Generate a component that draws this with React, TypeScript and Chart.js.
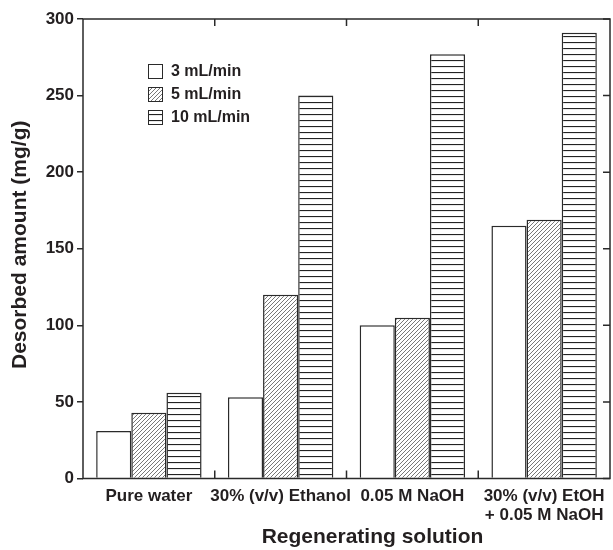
import React, { useEffect, useRef } from "react";
import { Chart, registerables } from "chart.js";

Chart.register(...registerables);

const categories: (string | string[])[] = [
  "Pure water",
  "30% (v/v) Ethanol",
  "0.05 M NaOH",
  ["30% (v/v) EtOH", "+ 0.05 M NaOH"],
];
const seriesLabels = ["3 mL/min", "5 mL/min", "10 mL/min"];
const flow3 = [31, 53, 100, 165];
const flow5 = [43, 120, 105, 169];
const flow10 = [56, 250, 277, 291];
const yMin = 0;
const yMax = 300;
const yStep = 50;
const yTitle = "Desorbed amount (mg/g)";
const xTitle = "Regenerating solution";

const INK = "#231f20";
const FONT = "'Liberation Sans', Arial, Helvetica, sans-serif";

function makeHatch(): CanvasPattern | string {
  const c = document.createElement("canvas");
  c.width = 4;
  c.height = 4;
  const g = c.getContext("2d");
  if (!g) return "#fff";
  g.fillStyle = "#fff";
  g.fillRect(0, 0, 4, 4);
  g.strokeStyle = "#555";
  g.lineWidth = 0.8;
  g.beginPath();
  g.moveTo(0, 4);
  g.lineTo(4, 0);
  g.moveTo(-1, 1);
  g.lineTo(1, -1);
  g.moveTo(3, 5);
  g.lineTo(5, 3);
  g.stroke();
  return g.createPattern(c, "repeat") || "#fff";
}

function makeLines(): CanvasPattern | string {
  const c = document.createElement("canvas");
  c.width = 6;
  c.height = 6;
  const g = c.getContext("2d");
  if (!g) return "#fff";
  g.fillStyle = "#fff";
  g.fillRect(0, 0, 6, 6);
  g.fillStyle = "#222";
  g.fillRect(0, 0, 6, 1.1);
  return g.createPattern(c, "repeat") || "#fff";
}

const framePlugin = {
  id: "framePlugin",
  afterDraw(chart: any) {
    const { ctx, chartArea } = chart;
    const { left, top, right, bottom } = chartArea;
    const xs = chart.scales.x;
    const ys = chart.scales.y;
    ctx.save();
    ctx.strokeStyle = "#2a2a2a";
    ctx.lineWidth = 1.5;
    ctx.strokeRect(left, top, right - left, bottom - top);
    ctx.beginPath();
    // right axis inward ticks
    ys.ticks.forEach((t: any) => {
      const y = ys.getPixelForValue(t.value);
      ctx.moveTo(right, y);
      ctx.lineTo(right - 7, y);
    });
    // category boundary ticks, top and bottom, inward
    const n = xs.ticks.length;
    const w = (xs.right - xs.left) / n;
    for (let i = 1; i < n; i++) {
      const x = xs.left + i * w;
      ctx.moveTo(x, top);
      ctx.lineTo(x, top + 7);
      ctx.moveTo(x, bottom);
      ctx.lineTo(x, bottom - 8);
    }
    ctx.stroke();

    // legend
    const lx = left + 65;
    let ly = top + 45;
    ctx.font = `bold 16px ${FONT}`;
    ctx.textBaseline = "middle";
    ctx.textAlign = "left";
    chart.data.datasets.forEach((ds: any) => {
      ctx.fillStyle = ds.backgroundColor;
      ctx.fillRect(lx, ly, 15, 15);
      ctx.strokeStyle = "#2a2a2a";
      ctx.lineWidth = 1;
      ctx.strokeRect(lx + 0.5, ly + 0.5, 14, 14);
      ctx.fillStyle = INK;
      ctx.fillText(ds.label, lx + 23, ly + 8);
      ly += 23;
    });

    // axis titles
    ctx.fillStyle = INK;
    ctx.font = `bold 21px ${FONT}`;
    ctx.textAlign = "center";
    ctx.textBaseline = "middle";
    ctx.fillText(xTitle, (left + right) / 2 + 26, 537);
    ctx.translate(20.5, (top + bottom) / 2 - 4);
    ctx.rotate(-Math.PI / 2);
    ctx.fillText(yTitle, 0, 0);
    ctx.restore();
  },
};

export default function App() {
  const ref = useRef<HTMLCanvasElement | null>(null);

  useEffect(() => {
    document.body.style.margin = "0";
    const canvas = ref.current;
    if (!canvas) return;
    const hatch = makeHatch();
    const lines = makeLines();
    const border = "#2a2a2a";
    const chart = new Chart(canvas, {
      type: "bar",
      data: {
        labels: categories,
        datasets: [
          { label: seriesLabels[0], data: flow3, backgroundColor: "#ffffff", borderColor: border, borderWidth: 1.5 },
          { label: seriesLabels[1], data: flow5, backgroundColor: hatch as any, borderColor: border, borderWidth: 1.5 },
          { label: seriesLabels[2], data: flow10, backgroundColor: lines as any, borderColor: border, borderWidth: 1.5 },
        ],
      },
      options: {
        responsive: false,
        animation: false,
        layout: { padding: { top: 19, right: 3, left: 0, bottom: 0 } },
        datasets: { bar: { categoryPercentage: 0.8, barPercentage: 1.0 } } as any,
        plugins: { legend: { display: false }, tooltip: { enabled: false }, title: { display: false } },
        scales: {
          x: {
            type: "category",
            grid: { display: false },
            border: { display: false },
            ticks: {
              autoSkip: false,
              maxRotation: 0,
              minRotation: 0,
              padding: 0,
              color: INK,
              font: { family: FONT, size: 17, weight: "bold", lineHeight: 1.14 },
            },
            afterFit: (s: any) => {
              s.height = 71.5;
            },
          },
          y: {
            min: yMin,
            max: yMax,
            grid: { display: true, drawOnChartArea: false, drawTicks: true, tickLength: 6, color: border, lineWidth: 1.5 },
            border: { display: false },
            ticks: {
              stepSize: yStep,
              padding: 3,
              color: INK,
              font: { family: FONT, size: 17, weight: "bold" },
            },
            afterFit: (s: any) => {
              s.width = 83;
            },
          },
        },
      },
      plugins: [framePlugin],
    });
    return () => chart.destroy();
  }, []);

  return (
    <div style={{ width: 613, height: 550 }}>
      <canvas ref={ref} width={613} height={550} />
    </div>
  );
}
